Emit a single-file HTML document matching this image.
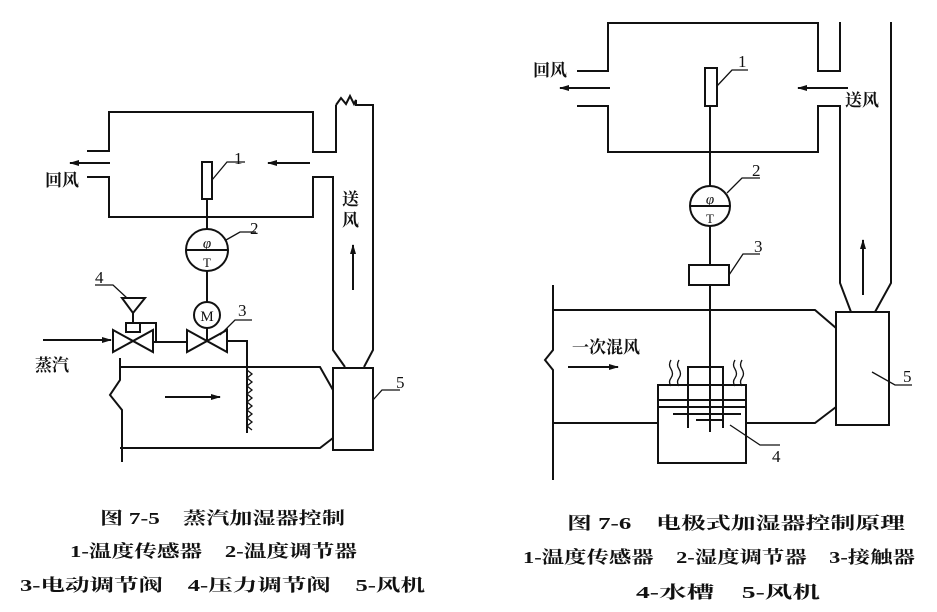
<!DOCTYPE html>
<html><head><meta charset="utf-8"><style>
html,body{margin:0;padding:0;background:#fff;}
svg{display:block;}
text{font-family:"Liberation Serif","Noto Serif CJK SC","Noto Sans CJK SC",serif;fill:#111;}
.c{font-family:"Liberation Sans","Noto Sans CJK SC",sans-serif;font-size:17px;font-weight:bold;}
</style></head><body>
<svg width="937" height="612" viewBox="0 0 937 612" xmlns="http://www.w3.org/2000/svg">
<defs><marker id="a" markerWidth="10" markerHeight="6" refX="9" refY="3" orient="auto" markerUnits="userSpaceOnUse"><path d="M0,0 L10,3 L0,6 Z" fill="#111"/></marker></defs>
<g fill="none" stroke="#111" stroke-width="2">
<!-- LEFT -->
<path d="M87,151 H109 V112 H313 V152 H336 V105"/>
<path d="M87,177 H109 V217 H313 V177 H333 V350 L345,367"/>
<path d="M336,105 L341,98 L346,104 L350,96 L354,104 L356,100 V105 H373 V350 L364,367"/>
<rect x="333" y="368" width="40" height="82"/>
<path d="M373,400 L382,390 H400" stroke-width="1.3"/>
<path d="M120,358 V380 L110,395 L122,410 V462"/>
<path d="M120,448 H320 L333,438"/>
<path d="M120,367 H320 L333,390"/>
<rect x="202" y="162" width="10" height="37"/>
<path d="M212,180 L227,162 H245" stroke-width="1.3"/>
<line x1="207" y1="199" x2="207" y2="229"/>
<circle cx="207" cy="250" r="21"/>
<line x1="186" y1="250" x2="228" y2="250"/>
<path d="M226,240 L240,232 H256" stroke-width="1.3"/>
<line x1="207" y1="271" x2="207" y2="302"/>
<circle cx="207" cy="315" r="13"/>
<path d="M187,330 L227,352 V330 L187,352 Z"/>
<line x1="207" y1="328" x2="207" y2="341"/>
<path d="M220,335 L235,320 H252" stroke-width="1.3"/>
<path d="M113,330 L153,352 V330 L113,352 Z"/>
<rect x="126" y="323" width="14" height="9"/>
<path d="M133,313 V323"/>
<path d="M122,298 H145 L133,313 Z"/>
<path d="M140,323 H156 V341"/>
<path d="M127,298 L113,285 H95" stroke-width="1.3"/>
<path d="M153,342 H187"/>
<path d="M227,341 H247 V433"/>
<path d="M247,370 L252,374 L247,378 L252,382 L247,386 L252,390 L247,394 L252,398 L247,402 L252,406 L247,410 L252,414 L247,418 L252,422 L247,426 L252,430" stroke-width="1.3"/>
<line x1="43" y1="340" x2="111" y2="340" marker-end="url(#a)"/>
<line x1="110" y1="163" x2="70" y2="163" marker-end="url(#a)"/>
<line x1="310" y1="163" x2="268" y2="163" marker-end="url(#a)"/>
<line x1="353" y1="290" x2="353" y2="245" marker-end="url(#a)"/>
<line x1="165" y1="397" x2="220" y2="397" marker-end="url(#a)"/>
<!-- RIGHT -->
<path d="M577,71 H608 V23 H818 V71 H840 V22"/>
<path d="M577,106 H608 V152 H818 V106 H840 V283 L851,312"/>
<path d="M891,22 V283 L875,312"/>
<rect x="836" y="312" width="53" height="113"/>
<path d="M872,372 L895,385 H912" stroke-width="1.3"/>
<path d="M553,285 V350 L545,360 L553,370 V480"/>
<path d="M553,310 H815 L836,328"/>
<path d="M553,423 H658 M746,423 H815 L836,407"/>
<rect x="705" y="68" width="12" height="38"/>
<path d="M717,86 L732,70 H748" stroke-width="1.3"/>
<line x1="710" y1="106" x2="710" y2="186"/>
<circle cx="710" cy="206" r="20"/>
<line x1="690" y1="206" x2="730" y2="206"/>
<path d="M727,193 L742,178 H760" stroke-width="1.3"/>
<line x1="710" y1="226" x2="710" y2="265"/>
<rect x="689" y="265" width="40" height="20"/>
<path d="M729,275 L743,254 H760" stroke-width="1.3"/>
<line x1="710" y1="285" x2="710" y2="432"/>
<rect x="658" y="385" width="88" height="78"/>
<line x1="658" y1="400" x2="746" y2="400"/>
<line x1="658" y1="407" x2="746" y2="407"/>
<path d="M688,385 V367 H723 V385"/>
<line x1="688" y1="385" x2="688" y2="428"/>
<line x1="723" y1="385" x2="723" y2="428"/>
<line x1="673" y1="414" x2="741" y2="414"/>
<line x1="696" y1="420" x2="724" y2="420"/>
<path d="M730,425 L760,445 H780" stroke-width="1.3"/>
<path d="M671,360 q-3,5 0,9 q3,5 0,9 q-3,4 0,8 M679,360 q-3,5 0,9 q3,5 0,9 q-3,4 0,8 M735,360 q-3,5 0,9 q3,5 0,9 q-3,4 0,8 M742,360 q-3,5 0,9 q3,5 0,9 q-3,4 0,8" stroke-width="1.3"/>
<line x1="610" y1="88" x2="560" y2="88" marker-end="url(#a)"/>
<line x1="848" y1="88" x2="798" y2="88" marker-end="url(#a)"/>
<line x1="863" y1="295" x2="863" y2="240" marker-end="url(#a)"/>
<line x1="568" y1="367" x2="618" y2="367" marker-end="url(#a)"/>
</g>
<g font-size="17">
<text x="234" y="164">1</text><text x="250" y="234">2</text><text x="238" y="316">3</text><text x="95" y="283">4</text><text x="396" y="388">5</text>
<text x="738" y="67">1</text><text x="752" y="176">2</text><text x="754" y="252">3</text><text x="772" y="462">4</text><text x="903" y="382">5</text>
</g>
<g font-size="15" text-anchor="middle">
<text x="207" y="248" font-style="italic">φ</text><text x="207" y="267" font-size="13">T</text>
<text x="207" y="321" font-size="15">M</text>
<text x="710" y="204" font-style="italic">φ</text><text x="710" y="223" font-size="13">T</text>
</g>
<g class="c">
<text x="45" y="186">回风</text>
<text x="35" y="371">蒸汽</text>
<text x="342" y="205">送</text><text x="342" y="226">风</text>
<text x="533" y="76">回风</text>
<text x="845" y="106">送风</text>
<text x="572" y="353">一次混风</text>
<text x="100" y="524" textLength="245" lengthAdjust="spacingAndGlyphs">图 7-5　蒸汽加湿器控制</text>
<text x="70" y="557" textLength="287" lengthAdjust="spacingAndGlyphs">1-温度传感器　2-温度调节器</text>
<text x="20" y="591" textLength="405" lengthAdjust="spacingAndGlyphs">3-电动调节阀　4-压力调节阀　5-风机</text>
<text x="567" y="529" textLength="338" lengthAdjust="spacingAndGlyphs">图 7-6　电极式加湿器控制原理</text>
<text x="523" y="563" textLength="392" lengthAdjust="spacingAndGlyphs">1-温度传感器　2-湿度调节器　3-接触器</text>
<text x="636" y="598" textLength="184" lengthAdjust="spacingAndGlyphs">4-水槽　5-风机</text>
</g>
</svg>
</body></html>
